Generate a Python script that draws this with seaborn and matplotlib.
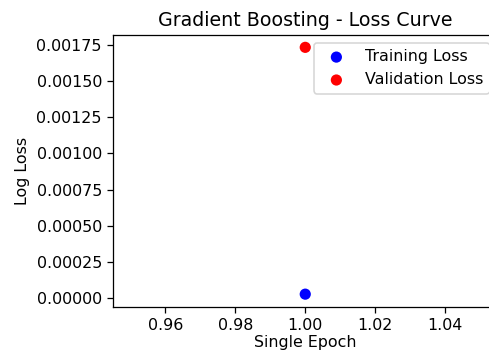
import matplotlib
matplotlib.use("Agg")
import matplotlib.pyplot as plt
import seaborn as sns
import pandas as pd

epochs = [1]
training_loss = [0.0000275]
validation_loss = [0.001733]

DPI = 114
fig = plt.figure(figsize=(490 / DPI, 351 / DPI), dpi=DPI)
ax = fig.add_axes([113 / 490, 1 - 306.5 / 351, (497.5 - 113) / 490, (306.5 - 35) / 351])

train_df = pd.DataFrame({"epoch": epochs, "loss": training_loss})
val_df = pd.DataFrame({"epoch": epochs, "loss": validation_loss})

sns.scatterplot(data=train_df, x="epoch", y="loss", color="blue", s=50,
                edgecolor="none", label="Training Loss", ax=ax)
sns.scatterplot(data=val_df, x="epoch", y="loss", color="red", s=50,
                edgecolor="none", label="Validation Loss", ax=ax)

ax.set_title("Gradient Boosting - Loss Curve", fontsize=12)
ax.set_xlabel("Single Epoch", fontsize=10, labelpad=1.5)
ax.set_ylabel("Log Loss", fontsize=10)
ax.legend(loc="upper right")

fig.savefig("out.png", dpi=DPI)
